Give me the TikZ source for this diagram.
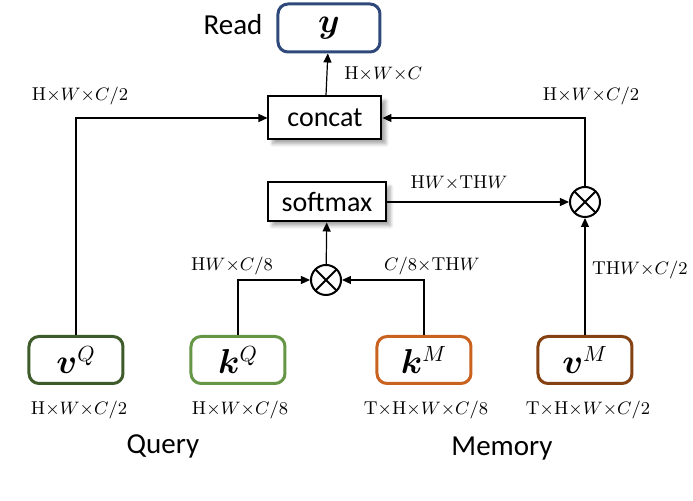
\documentclass[tikz,border=0pt]{standalone}
\usepackage{amsmath}
\usepackage{bm}
\usepackage{fontspec}
\newfontfamily\calib{Carlito}
\usetikzlibrary{arrows.meta,shadows.blur}

\definecolor{readblue}{HTML}{2F4A7A}
\definecolor{qdark}{HTML}{3E5C2B}
\definecolor{qlight}{HTML}{659645}
\definecolor{morange}{HTML}{C9621F}
\definecolor{mbrown}{HTML}{844112}

\newcommand{\dimtxt}[1]{$#1$}

\begin{document}
\begin{tikzpicture}[x=0.5pt,y=-0.5pt,
    feat/.style={draw, rounded corners=5pt, line width=1.5pt, fill=white,
      minimum width=47pt, minimum height=23.5pt, font=\fontsize{16}{16}\selectfont},
    opbox/.style={draw, line width=1pt, fill=white, minimum height=20pt,
      font=\calib\fontsize{14}{14}\selectfont, blur shadow={shadow blur steps=6, shadow opacity=35}},
    mult/.style={circle, draw, line width=1pt, minimum size=15pt, inner sep=0pt,
      path picture={\draw[line width=1pt] (path picture bounding box.north west) -- (path picture bounding box.south east)
        (path picture bounding box.north east) -- (path picture bounding box.south west);}},
    dim/.style={font=\fontsize{9.3}{9.3}\selectfont, inner sep=1pt},
    word/.style={font=\calib\fontsize{14.5}{14.5}\selectfont},
    link/.style={line width=0.6pt, -{Triangle[length=4.5pt,width=4pt]}}]

  \useasboundingbox (0,0) rectangle (693,501);

  % outputs and operations
  \node[feat, draw=readblue, minimum width=51pt, minimum height=24pt] (y) at (329,28) {$\bm{y}$};
  \node[word] (read) at (233,25) {Read};
  \node[opbox, minimum width=56.5pt, minimum height=21.5pt] (concat) at (325,118) {concat};
  \node[opbox, minimum width=59pt, minimum height=19.5pt] (softmax) at (327,202) {softmax};
  \node[mult] (mulA) at (326,280) {};
  \node[mult] (mulB) at (585,202) {};

  % query and memory features
  \node[feat, draw=qdark] (vQ) at (76,360) {$\bm{v}^{Q}$};
  \node[feat, draw=qlight] (kQ) at (238,360) {$\bm{k}^{Q}$};
  \node[feat, draw=morange] (kM) at (424,360) {$\bm{k}^{M}$};
  \node[feat, draw=mbrown] (vM) at (585,360) {$\bm{v}^{M}$};

  \node[dim] (dvQ) at (79,410) {\dimtxt{\mathrm{H}{\times}W{\times}C/2}};
  \node[dim] (dkQ) at (240,410) {\dimtxt{\mathrm{H}{\times}W{\times}C/8}};
  \node[dim] (dkM) at (426,410) {\dimtxt{\mathrm{T}{\times}\mathrm{H}{\times}W{\times}C/8}};
  \node[dim] (dvM) at (588,410) {\dimtxt{\mathrm{T}{\times}\mathrm{H}{\times}W{\times}C/2}};
  \node[word] (query) at (163,446) {Query};
  \node[word] (memory) at (502,449) {Memory};

  % connectors
  \draw[link] (concat) -- (y);
  \draw[link] (vQ.north) |- (concat.west);
  \draw[link] (mulB.north) |- (concat.east);
  \draw[link] (softmax.east) -- (mulB.west);
  \draw[link] (vM) -- (mulB);
  \draw[link] (mulA) -- (softmax);
  \draw[link] (kQ.north) |- (mulA.west);
  \draw[link] (kM.north) |- (mulA.east);

  % sizes on the connectors
  \node[dim, anchor=west] (dy) at (342,74) {\dimtxt{\mathrm{H}{\times}W{\times}C}};
  \node[dim] (dleft) at (80,96) {\dimtxt{\mathrm{H}{\times}W{\times}C/2}};
  \node[dim] (dright) at (591,96) {\dimtxt{\mathrm{H}{\times}W{\times}C/2}};
  \node[dim] (dsoft) at (459,183) {\dimtxt{\mathrm{H}W{\times}\mathrm{TH}W}};
  \node[dim] (dkq) at (232,266) {\dimtxt{\mathrm{H}W{\times}C/8}};
  \node[dim] (dkm) at (432,266) {\dimtxt{C/8{\times}\mathrm{TH}W}};
  \node[dim, anchor=east] (dvm) at (690,270) {\dimtxt{\mathrm{TH}W{\times}C/2}};
\end{tikzpicture}
\end{document}
